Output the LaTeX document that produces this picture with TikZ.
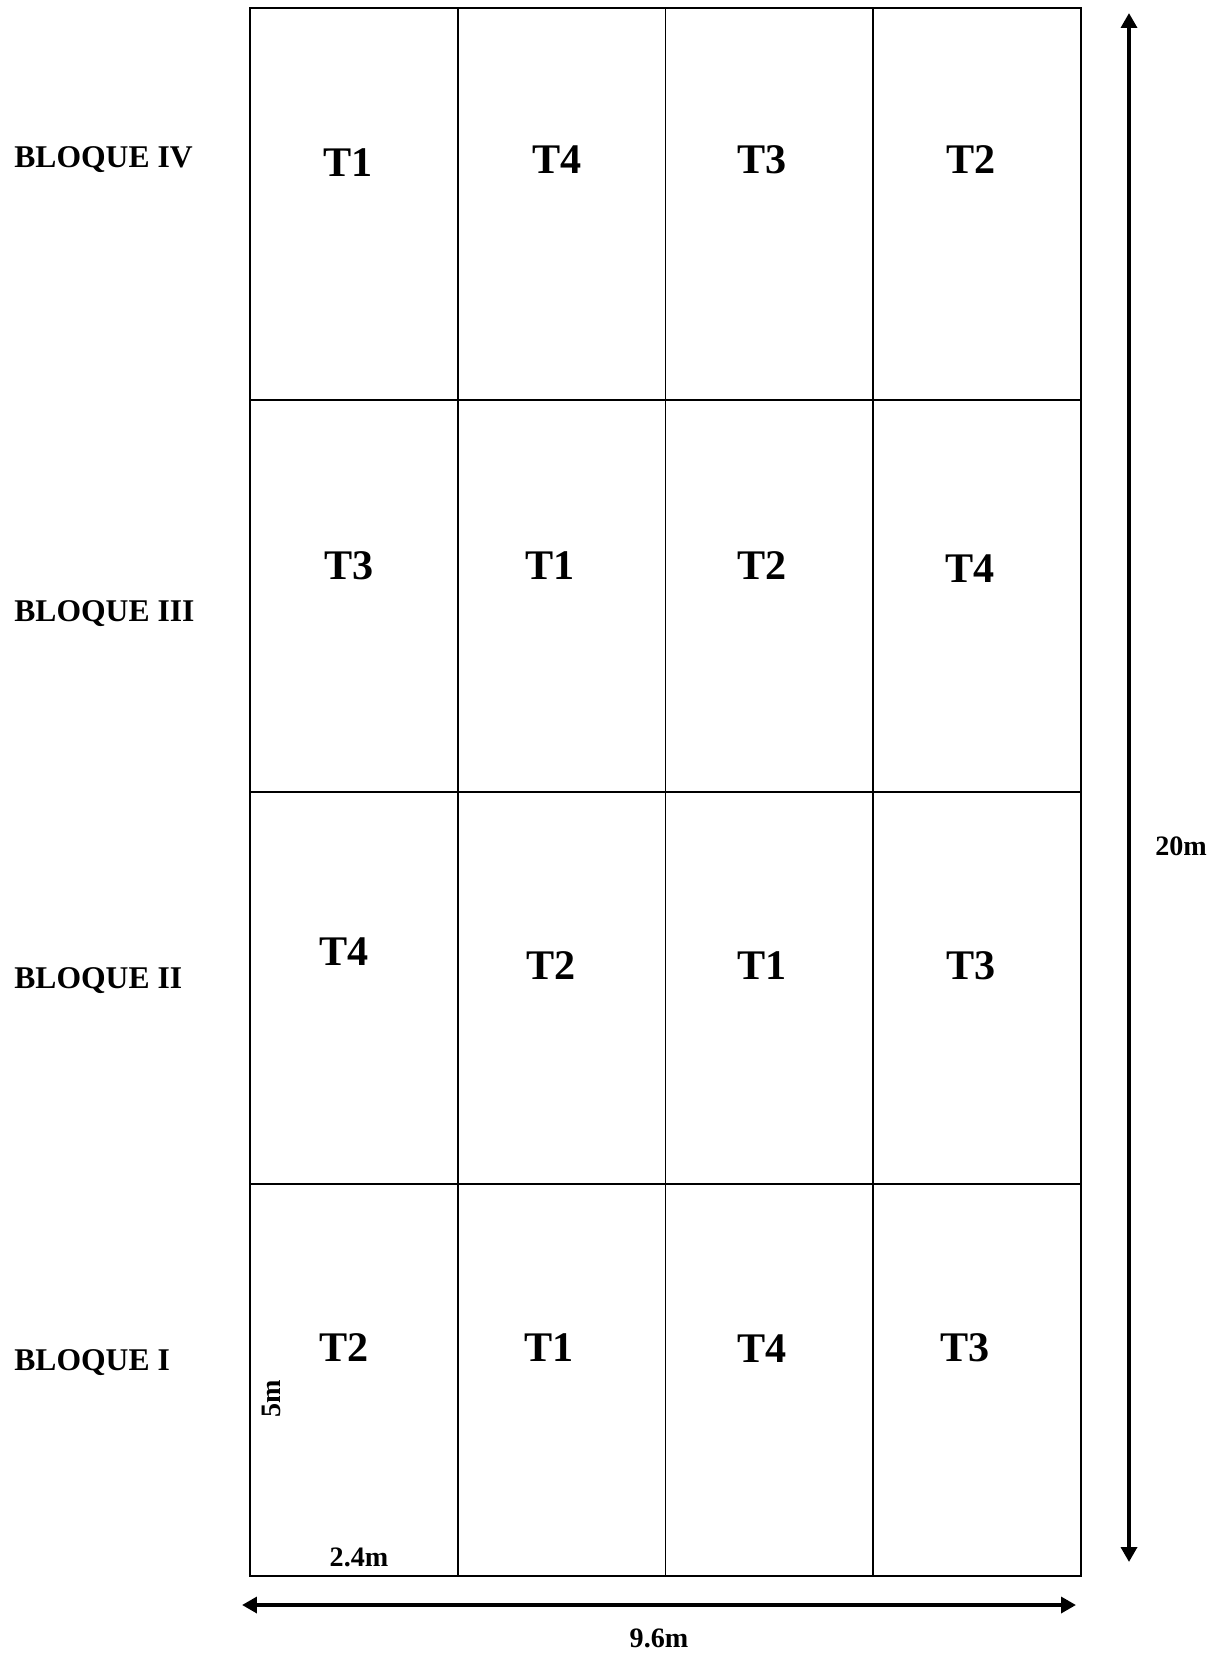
\documentclass[tikz,border=0pt]{standalone}
\usepackage{fontspec}
\setmainfont{Liberation Serif}
\usetikzlibrary{arrows.meta,positioning}

\begin{document}
\begin{tikzpicture}[
    x=0.02cm, y=-0.02cm,
    plot/.style={draw, line width=1.1pt},
    block/.style={font=\fontsize{18}{20}\selectfont\bfseries, anchor=west, inner sep=0pt},
    trt/.style={font=\fontsize{24}{26}\selectfont\bfseries, inner sep=0pt},
    dim/.style={font=\fontsize{16}{18}\selectfont\bfseries, inner sep=0pt},
    arrow/.style={{Triangle[length=8.5pt,width=9pt]}-{Triangle[length=8.5pt,width=9pt]}, line width=2.3pt}
]
\useasboundingbox (0,0) rectangle (1221,1653);

% Plots
\foreach \i in {0,...,3} {
  \foreach \j in {0,...,3} {
    \draw[plot] ({250+207.75*\i},{8+392*\j}) rectangle ++(207.75,392);
  }
}

% Blocks
\node[block] (b4) at (14,160) {BLOQUE IV};
\node[block] (b3) at (14,614) {BLOQUE III};
\node[block] (b2) at (14,981) {BLOQUE II};
\node[block] (b1) at (14,1363) {BLOQUE I};

% Treatments
\node[trt] (t41) at (348,163) {T1};
\node[trt] (t42) at (557,160) {T4};
\node[trt] (t43) at (762,160) {T3};
\node[trt] (t44) at (971,160) {T2};
\node[trt] (t31) at (349,566) {T3};
\node[trt] (t32) at (550,566) {T1};
\node[trt] (t33) at (762,566) {T2};
\node[trt] (t34) at (970,569) {T4};
\node[trt] (t21) at (344,952) {T4};
\node[trt] (t22) at (551,966) {T2};
\node[trt] (t23) at (762,966) {T1};
\node[trt] (t24) at (971,966) {T3};
\node[trt] (t11) at (344,1348) {T2};
\node[trt] (t12) at (549,1348) {T1};
\node[trt] (t13) at (762,1349) {T4};
\node[trt] (t14) at (965,1348) {T3};

% Dimensions
\node[dim, rotate=90] (plotH) at (271,1399) {5m};
\node[dim] (plotW) at (359,1557) {2.4m};
\coordinate (top) at (1129,13);
\coordinate (bottom) at (1129,1562);
\coordinate (left) at (242,1605);
\coordinate (right) at (1076,1605);
\draw[arrow] (top) -- (bottom);
\draw[arrow] (left) -- (right);
\node[dim] (totalH) at (1181,846) {20m};
\node[dim] (totalW) at (659,1638) {9.6m};

\end{tikzpicture}
\end{document}
